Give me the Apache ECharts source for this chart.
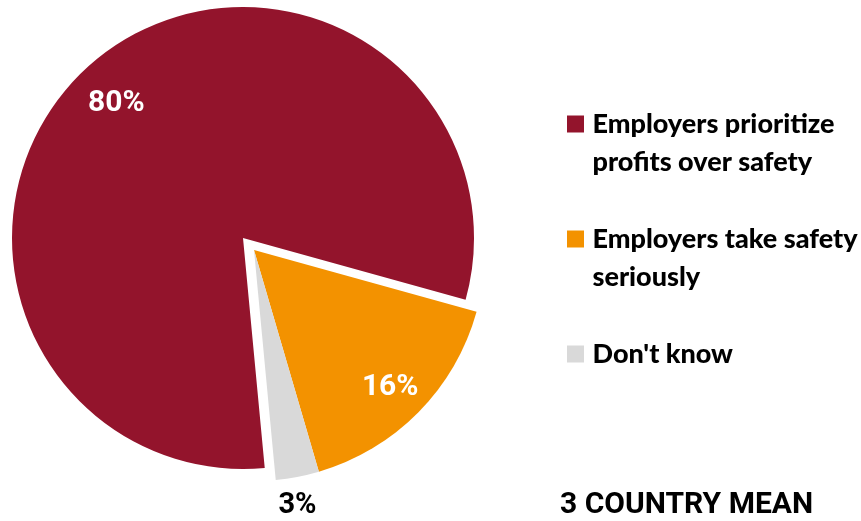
<!DOCTYPE html>
<html>
<head>
<meta charset="utf-8">
<script src="https://cdn.jsdelivr.net/npm/echarts@6/dist/echarts.min.js"></script>
<style>
  html, body { margin: 0; padding: 0; background: #ffffff; }
  #chart { width: 861px; height: 521px; }
</style>
</head>
<body>
<div id="chart"></div>
<script>
// Survey answers, share of respondents (%)
const categories = [
  'Employers prioritize profits over safety',
  'Employers take safety seriously',
  "Don't know"
];
const shares = [80, 16, 3];
const sliceColors = ['#93142c', '#f39200', '#d9d9d9'];
// Legend text split over lines; the blank first line keeps the square beside the first text line
const legendLines = [
  '\nEmployers prioritize\nprofits over safety',
  '\nEmployers take safety\nseriously',
  "\nDon't know\n"
];
const titleText = '3 COUNTRY MEAN';

// Geometry of the pie: the "take safety seriously" and "don't know" slices are pulled out together
const R = 231;
const mainCenter = [243, 238];
const pulledCenter = [254, 250];
const startAngle = 275.4;
const pulled = [false, true, true];

const labelFont = 'Roboto';
const legendFont = 'Lato';
const clear = 'rgba(0,0,0,0)';

const baseSeries = {
  type: 'pie',
  radius: [0, R],
  startAngle: startAngle,
  clockwise: true,
  avoidLabelOverlap: false,
  silent: true,
  emphasis: { disabled: true },
  labelLine: { show: false },
  label: { show: false },
  itemStyle: { borderWidth: 0 },
  animation: false
};

// Filled slices
function sliceSeries(center, visibleFn) {
  return Object.assign({}, baseSeries, {
    center: center,
    data: categories.map(function (name, i) {
      return {
        name: name,
        value: shares[i],
        itemStyle: { color: sliceColors[i], opacity: visibleFn(i) ? 1 : 0 }
      };
    })
  });
}

// Percentage labels, placed on transparent rings so they sit at the right distance from the centre
function labelRing(center, inner, outer, index, color, size, nudge) {
  return Object.assign({}, baseSeries, {
    center: center,
    radius: [inner, outer],
    z: 5,
    data: categories.map(function (name, i) {
      return {
        name: name,
        value: shares[i],
        itemStyle: { color: clear },
        label: {
          show: i === index,
          position: 'inside',
          formatter: '{c}%',
          color: color,
          fontFamily: labelFont,
          fontWeight: 'bold',
          fontSize: size,
          offset: nudge
        }
      };
    })
  });
}

const series = [
  sliceSeries(mainCenter, function (i) { return !pulled[i]; }),
  sliceSeries(pulledCenter, function (i) { return pulled[i]; }),
  labelRing(mainCenter, R * 0.6, R, 0, '#ffffff', 30, [-6, 9]),
  labelRing(pulledCenter, R * 0.63, R, 1, '#ffffff', 30, [0, 3]),
  labelRing(pulledCenter, R, R * 1.2, 2, '#000000', 29, [-5, 3])
];

const chart = echarts.init(document.getElementById('chart'), null, { renderer: 'canvas' });

chart.setOption({
  backgroundColor: '#ffffff',
  animation: false,
  title: {
    text: titleText,
    left: 560,
    top: 490,
    padding: 0,
    textStyle: {
      fontFamily: labelFont,
      fontWeight: 'bold',
      fontSize: 30,
      color: '#000000'
    }
  },
  legend: {
    orient: 'vertical',
    left: 567,
    top: 67,
    padding: 0,
    itemGap: 1,
    itemWidth: 24,
    itemHeight: 17,
    icon: 'path://M0 0H10V10H0Z',
    symbolKeepAspect: true,
    selectedMode: false,
    data: categories.map(function (name, i) {
      return { name: name, itemStyle: { color: sliceColors[i], opacity: 1 } };
    }),
    formatter: function (name) {
      return legendLines[categories.indexOf(name)];
    },
    textStyle: {
      fontFamily: legendFont,
      fontWeight: 900,
      fontSize: 27,
      lineHeight: 38,
      color: '#000000'
    }
  },
  series: series
});
</script>
</body>
</html>
